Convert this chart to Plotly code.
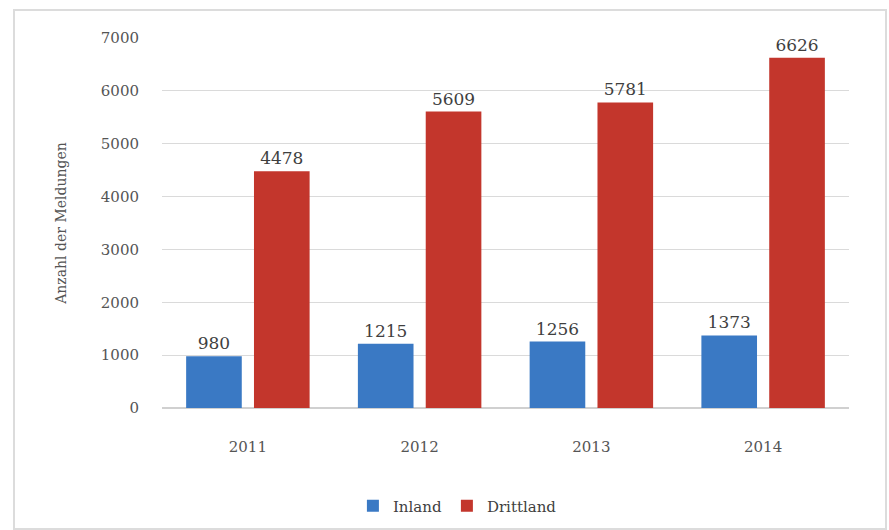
import plotly.graph_objects as go

years = ["2011", "2012", "2013", "2014"]
inland = [980, 1215, 1256, 1373]
drittland = [4478, 5609, 5781, 6626]
y_ticks = [0, 1000, 2000, 3000, 4000, 5000, 6000, 7000]

FONT = "DejaVu Serif"
W, H = 889, 530
L, R, T, B = 162, 40, 38, 122

fig = go.Figure()
fig.add_trace(go.Bar(
    name="Inland", x=years, y=inland,
    marker=dict(color="#3a79c4", line=dict(width=0)),
    text=[str(v) for v in inland], textposition="outside",
    textfont=dict(family=FONT, size=17, color="#3f3f3f"),
    cliponaxis=False,
))
fig.add_trace(go.Bar(
    name="Drittland", x=years, y=drittland,
    marker=dict(color="#c3362c", line=dict(width=0)),
    text=[str(v) for v in drittland], textposition="outside",
    textfont=dict(family=FONT, size=17, color="#3f3f3f"),
    cliponaxis=False,
))

# light frame around the whole chart
pw, ph = W - L - R, H - T - B
fig.add_shape(
    type="rect", xref="paper", yref="paper",
    x0=(14 - L) / pw, x1=(886 - L) / pw,
    y0=(H - B - 529) / ph, y1=(H - B - 10) / ph,
    line=dict(color="#dcdcdc", width=2), fillcolor="rgba(0,0,0,0)", layer="below",
)

fig.update_layout(
    width=W, height=H,
    margin=dict(l=L, r=R, t=T, b=B, autoexpand=False),
    paper_bgcolor="white", plot_bgcolor="white",
    barmode="group", bargap=0.21, bargroupgap=0.18,
    font=dict(family=FONT, size=14, color="#555555"),
    showlegend=True,
    legend=dict(orientation="h", x=0.43, xanchor="center", y=-0.22, yanchor="top",
                bgcolor="rgba(0,0,0,0)",
                font=dict(family=FONT, size=15, color="#404040"),
                itemwidth=30, itemsizing="constant"),
    xaxis=dict(showline=False, ticks="", automargin=False,
               tickfont=dict(size=15, color="#555555"), ticklabelstandoff=28),
    yaxis=dict(range=[0, 7000], tickvals=y_ticks, showgrid=True, gridcolor="#dadada",
               gridwidth=1, zeroline=True, zerolinecolor="#d0d0d0", showline=False,
               automargin=False,
               tickfont=dict(size=15, color="#555555"), ticklabelstandoff=22,
               title=dict(text="Anzahl der Meldungen", font=dict(size=14, color="#555555"),
                          standoff=30)),
)

fig.write_html("out.html")
